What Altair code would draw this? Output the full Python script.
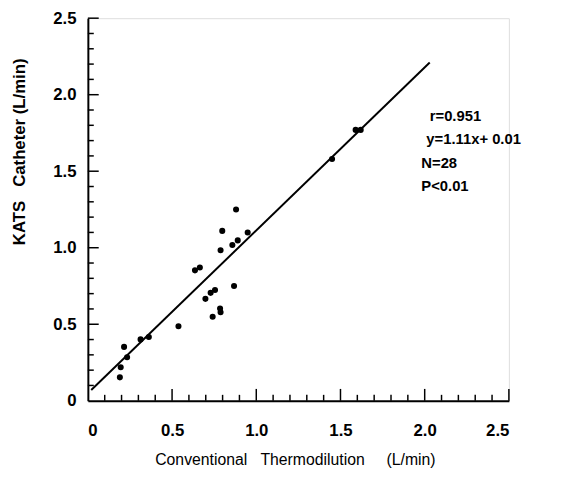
import altair as alt
import pandas as pd

# scatter points (Conventional thermodilution vs KATS catheter, L/min)
xs = [0.19, 0.195, 0.215, 0.233, 0.313, 0.362, 0.538, 0.636, 0.665, 0.698,
      0.729, 0.741, 0.755, 0.785, 0.788, 0.788, 0.798, 0.858, 0.868, 0.880,
      0.890, 0.949, 1.45, 1.59, 1.62]
ys = [0.153, 0.219, 0.352, 0.284, 0.401, 0.417, 0.487, 0.852, 0.871, 0.666,
      0.705, 0.549, 0.724, 0.603, 0.578, 0.984, 1.11, 1.018, 0.750, 1.25,
      1.048, 1.10, 1.58, 1.77, 1.77]

# regression line end points as drawn
line_x = [0.02, 2.03]
line_y = [0.07, 2.21]

# annotation
ann_text = ["r=0.951", "y=1.11x+ 0.01", "N=28", "P<0.01"]
ann_x = [2.03, 2.01, 1.98, 1.98]
ann_y = [1.86, 1.71, 1.55, 1.40]

# ticks
major_ticks = [0, 0.5, 1.0, 1.5, 2.0, 2.5]
minor_ticks = [round(i * 0.1, 1) for i in range(1, 25) if i % 5 != 0]

W, H = 427, 388
FONT = "Liberation Sans"
NB = "\u00a0"

x_title = "Conventional" + NB * 3 + "Thermodilution" + NB * 5 + "(L/min)"
y_title = "KATS" + NB * 3 + "Catheter" + NB + "(L/min)"

pts = pd.DataFrame({"x": xs, "y": ys})
line_df = pd.DataFrame({"x": line_x, "y": line_y})
ann_df = pd.DataFrame({"t": ann_text, "x": ann_x, "y": ann_y})
maj_df = pd.DataFrame({"v": major_ticks[1:]})
min_df = pd.DataFrame({"v": minor_ticks})

xscale = alt.Scale(domain=[0, 2.5], nice=False, zero=False)
yscale = alt.Scale(domain=[0, 2.5], nice=False, zero=False)

label_expr = "datum.value == 0 ? '0' : format(datum.value, '.1f')"

xaxis = alt.Axis(values=major_ticks, labelExpr=label_expr, ticks=False,
                 grid=False, domainColor="black", domainWidth=2,
                 labelFont=FONT, labelFontSize=17, labelFontWeight="bold",
                 labelColor="black", labelPadding=22,
                 title=x_title, titleX=210, titleAlign="center",
                 titleFont=FONT, titleFontSize=16, titleFontWeight="normal",
                 titleColor="black", titlePadding=14)
yaxis = alt.Axis(values=major_ticks, labelExpr=label_expr, ticks=False,
                 grid=False, domainColor="black", domainWidth=2,
                 labelFont=FONT, labelFontSize=17, labelFontWeight="bold",
                 labelColor="black", labelPadding=12,
                 title=y_title,
                 titleFont=FONT, titleFontSize=17, titleFontWeight="bold",
                 titleColor="black", titleAngle=270, titleAlign="center",
                 titleBaseline="middle", titleX=-69, titleY=135)

base_pts = alt.Chart(pts).mark_circle(size=38, color="black", opacity=1).encode(
    x=alt.X("x:Q", scale=xscale, axis=xaxis),
    y=alt.Y("y:Q", scale=yscale, axis=yaxis),
)

line = alt.Chart(line_df).mark_line(color="black", strokeWidth=2).encode(
    x=alt.X("x:Q", scale=xscale),
    y=alt.Y("y:Q", scale=yscale),
)

ann = alt.Chart(ann_df).mark_text(
    align="left", baseline="middle", font=FONT, fontSize=15,
    fontWeight="bold", color="black"
).encode(
    x=alt.X("x:Q", scale=xscale),
    y=alt.Y("y:Q", scale=yscale),
    text="t:N",
)

# inward tick marks
xmaj = alt.Chart(maj_df).mark_rule(color="black", strokeWidth=1.5).encode(
    x=alt.X("v:Q", scale=xscale), y=alt.value(H), y2=alt.value(H - 12))
xmin = alt.Chart(min_df).mark_rule(color="black", strokeWidth=1.5).encode(
    x=alt.X("v:Q", scale=xscale), y=alt.value(H), y2=alt.value(H - 6))
ymaj = alt.Chart(maj_df).mark_rule(color="black", strokeWidth=1.5).encode(
    y=alt.Y("v:Q", scale=yscale), x=alt.value(0), x2=alt.value(11))
ymin = alt.Chart(min_df).mark_rule(color="black", strokeWidth=1.5).encode(
    y=alt.Y("v:Q", scale=yscale), x=alt.value(0), x2=alt.value(6))

chart = alt.layer(base_pts, line, ann, xmaj, xmin, ymaj, ymin).properties(
    width=W, height=H,
    autosize=alt.AutoSizeParams(type="none"),
    padding={"left": 81, "top": 7, "right": 64, "bottom": 74},
).configure_view(stroke=None).configure(background="white")

chart.save("out.html", embed_options={"renderer": "svg", "actions": False})
